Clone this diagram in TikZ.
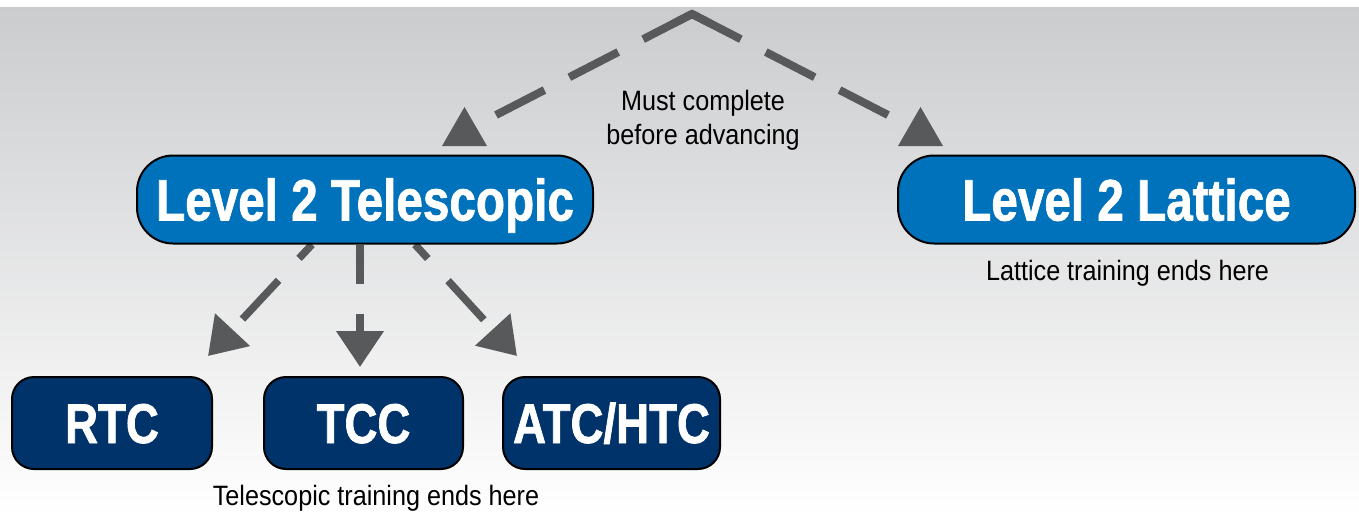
\documentclass[tikz,border=0pt]{standalone}
\usepackage{fontspec}
\newfontfamily\cond[FakeStretch=0.815, BoldFeatures={FakeBold=1.2}]{Liberation Sans}
\newfontfamily\condreg[FakeStretch=0.9]{Liberation Sans}
\usetikzlibrary{arrows.meta,calc}
\definecolor{lvlblue}{RGB}{0,114,188}
\definecolor{navy}{RGB}{0,51,105}
\definecolor{arrowgray}{RGB}{88,89,91}
\definecolor{bgtop}{RGB}{203,204,206}
\pgfdeclarelayer{backdrop}
\pgfdeclarelayer{links}
\pgfsetlayers{backdrop,links,main}
\begin{document}
\begin{tikzpicture}[x=1pt,y=-1pt,
  level/.style={draw=black, line width=2pt, fill=lvlblue, rounded corners=36pt,
    minimum width=456pt, minimum height=88pt, inner sep=0pt, text=white,
    font=\cond\bfseries\fontsize{58.5}{60}\selectfont, text height=42pt, text depth=0pt},
  cert/.style={draw=black, line width=2pt, fill=navy, rounded corners=22pt,
    minimum height=92pt, inner sep=0pt, text=white,
    font=\cond\bfseries\fontsize{56}{58}\selectfont, text height=40pt, text depth=0pt},
  note/.style={font=\condreg\fontsize{28}{34}\selectfont, text=black, inner sep=0pt},
  roof/.style={draw=arrowgray, line width=8pt, dash pattern=on 55pt off 28pt},
  branch/.style={draw=arrowgray, line width=7.5pt, dash pattern=on 53pt off 30pt,
    -{Triangle[length=36pt,width=46pt]}},
  upmark/.style={fill=arrowgray}]
\useasboundingbox (0,0) rectangle (1359,515);
\begin{pgfonlayer}{backdrop}
  \fill[white] (0,0) rectangle (1359,515);
  \shade[top color=bgtop, bottom color=white] (0,7) rectangle (1359,515);
\end{pgfonlayer}

% nodes
\node[level] (tel) at (365,199.5) {Level 2 Telescopic};
\node[level, minimum width=457pt] (lat) at (1126.5,199.5) {Level 2 Lattice};
\node[cert, minimum width=200pt] (rtc) at (112,423) {RTC};
\node[cert, minimum width=199pt] (tcc) at (363.5,423) {TCC};
\node[cert, minimum width=217pt] (atc) at (611.5,423) {ATC/HTC};

% labels
\node[note, align=center, anchor=north] (must) at (703,90) {Must complete\\before advancing};
\node[note, anchor=base] (latnote) at (1127.5,280) {Lattice training ends here};
\node[note, anchor=base] (telnote) at (376,505) {Telescopic training ends here};

% connectors
\coordinate (apex) at (692,14);
\coordinate (roofL) at (496,115);
\coordinate (roofR) at (888,115);
\coordinate (tipL) at ($(rtc.north east)+(-5,-20)$);
\coordinate (tipM) at ($(tcc.north)+(-3.5,-9)$);
\coordinate (tipR) at ($(atc.north west)+(15,-20)$);
\begin{pgfonlayer}{links}
  \draw[roof] (apex) -- (roofL);
  \draw[roof] (apex) -- (roofR);
  \draw[draw=arrowgray, line width=8pt, line join=miter]
    ($(apex)!20pt!(roofL)$) -- (apex) -- ($(apex)!20pt!(roofR)$);
  \fill[upmark] (442,146) -- (464.5,107) -- (487,146) -- cycle;
  \fill[upmark] (898,146) -- (920.5,107) -- (943,146) -- cycle;
  \draw[branch, dash phase=34pt] ($(tel.south)+(-53,0)$) -- (tipL);
  \draw[branch, dash phase=14pt] ($(tel.south)+(-5,0)$) -- (tipM);
  \draw[branch, dash phase=34pt] ($(tel.south)+(50,0)$) -- (tipR);
\end{pgfonlayer}
\end{tikzpicture}
\end{document}
